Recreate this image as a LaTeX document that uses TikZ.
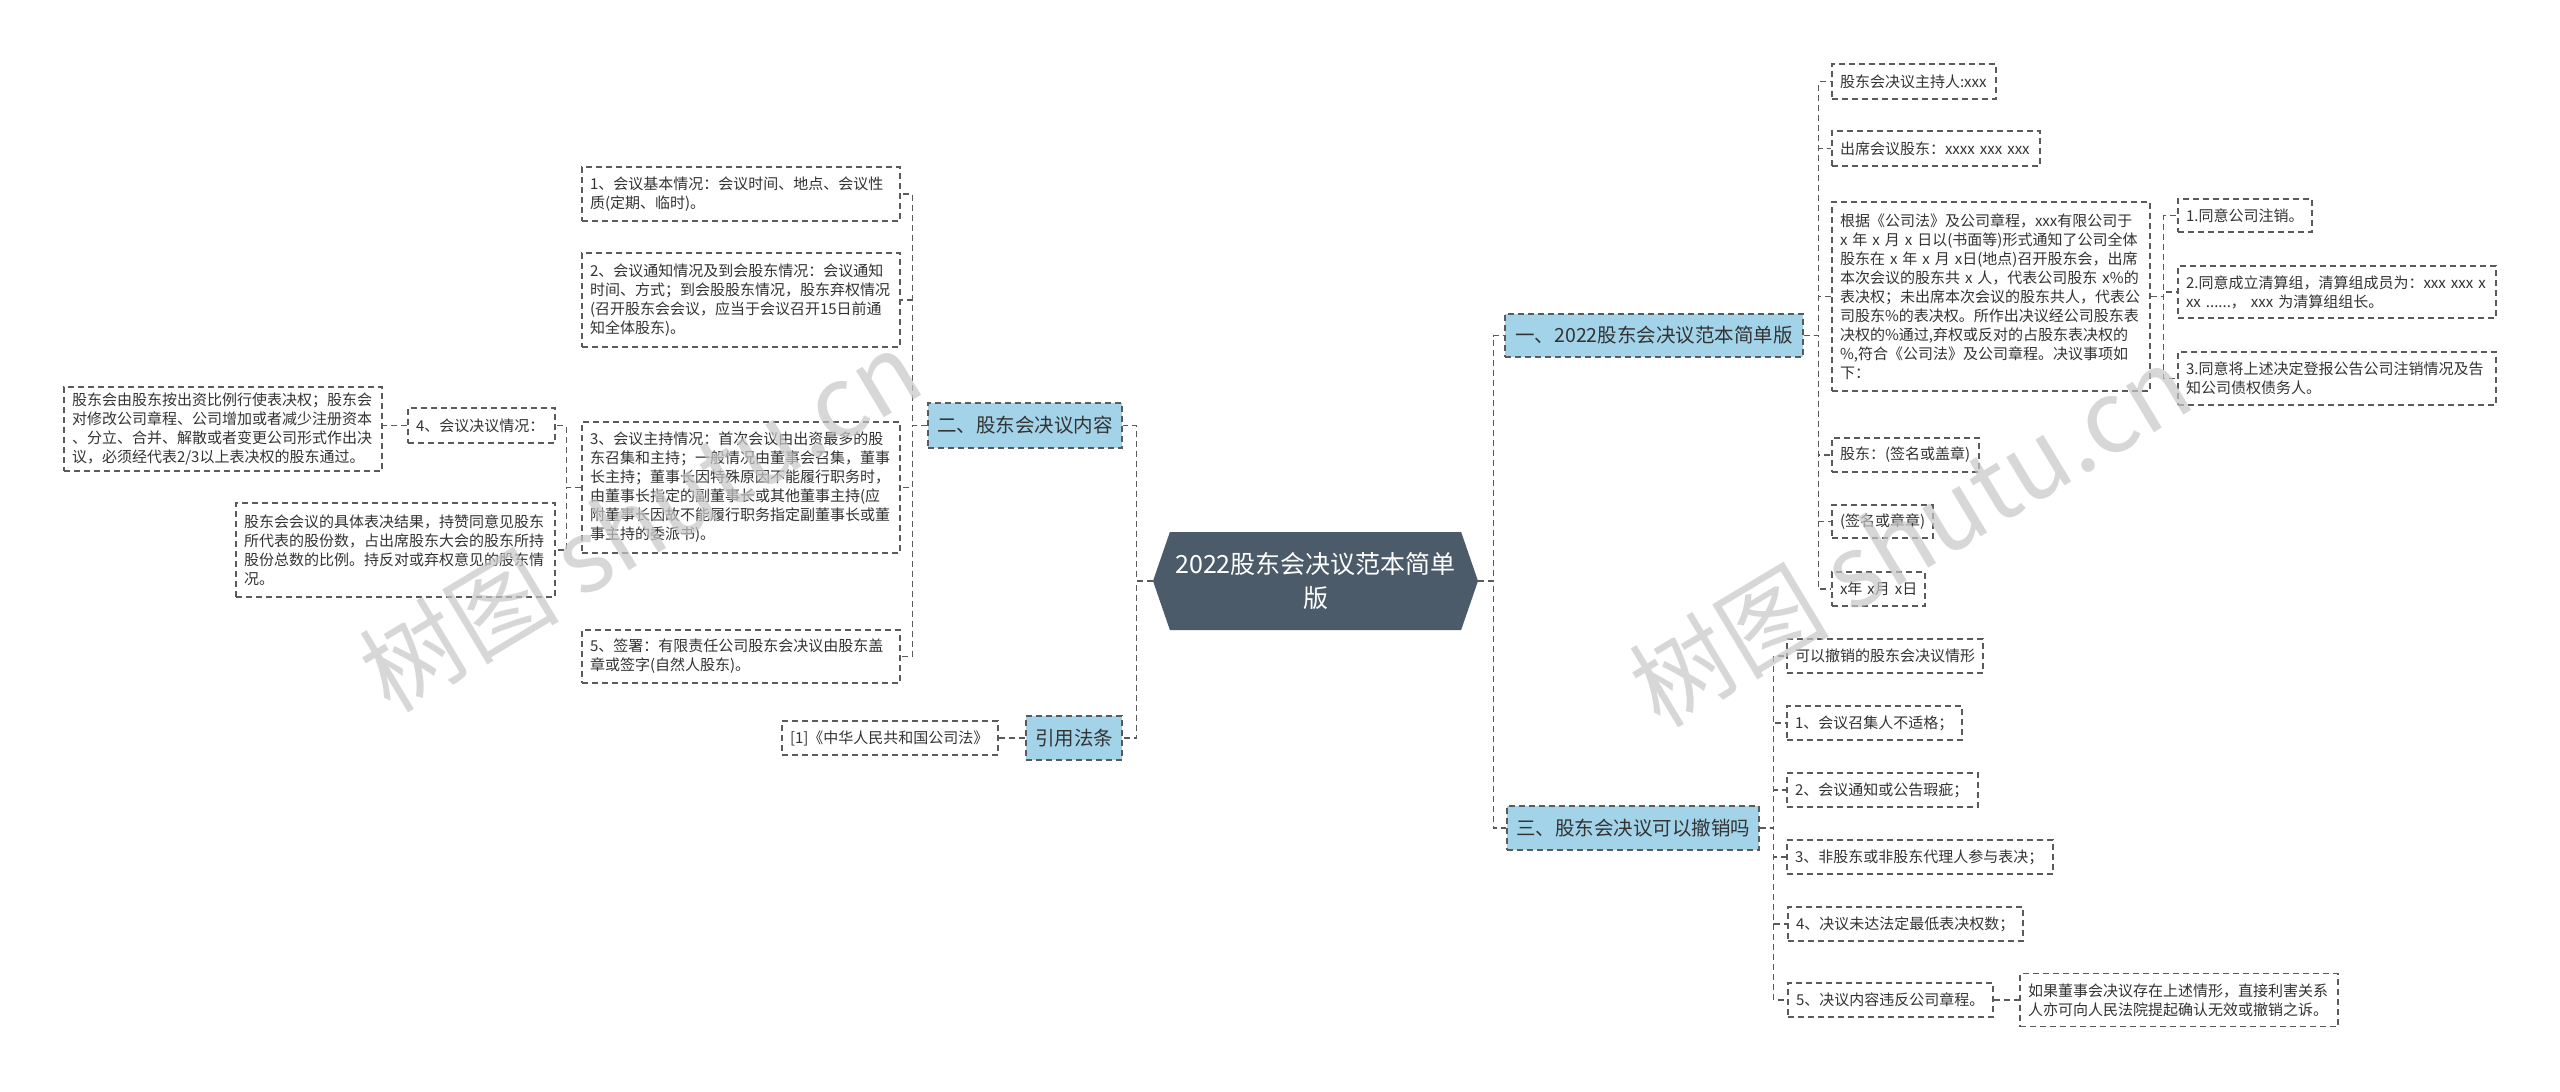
\documentclass[tikz,border=0pt]{standalone}
\usepackage{fontspec}
\setmainfont{Noto Sans CJK SC}
\usetikzlibrary{shapes.symbols}
\definecolor{linegray}{HTML}{5A5A5A}
\definecolor{txtgray}{HTML}{333333}
\definecolor{topicblue}{HTML}{A3D3E9}
\definecolor{rootslate}{HTML}{4C5B6A}

\begin{document}
\begin{tikzpicture}[x=1pt, y=-1pt,
  link/.style={draw=linegray, line width=1.3pt, dash pattern=on 6pt off 4pt},
  leaf/.style={draw=linegray, line width=1.2pt, dash pattern=on 6pt off 4pt, fill=white, text=txtgray, align=left, inner xsep=8pt, inner ysep=4pt, font=\fontsize{15}{19}\selectfont},
  topic/.style={leaf, fill=topicblue, align=center, font=\fontsize{19.5}{24}\selectfont},
  watermark/.style={text=black!22, opacity=0.7, font=\fontsize{100}{100}\selectfont}]
\fill[white] (0,0) rectangle (2560,1092);
\useasboundingbox (0,0) rectangle (2560,1092);

% centre
\node[signal, signal to=west and east, signal pointer angle=142, fill=rootslate, text=white, align=center, minimum width=325pt, minimum height=98pt, inner sep=4pt, font=\fontsize{25}{34}\selectfont] (root) at (1315.5,581) {2022股东会决议范本简单\\版};

% left: 二
\node[topic, minimum width=194pt, minimum height=45pt] (er) at (1025,425.5) {二、股东会决议内容};
\node[leaf, text width=302pt, minimum height=54pt] (b1) at (741,194) {1、会议基本情况：会议时间、地点、会议性\\质(定期、临时)。};
\node[leaf, text width=302pt, minimum height=94pt] (b2) at (741,300) {2、会议通知情况及到会股东情况：会议通知\\时间、方式；到会股股东情况，股东弃权情况\\(召开股东会会议，应当于会议召开15日前通\\知全体股东)。};
\node[leaf, text width=302pt, minimum height=131pt] (b3) at (741,487.5) {3、会议主持情况：首次会议由出资最多的股\\东召集和主持；一般情况由董事会召集，董事\\长主持；董事长因特殊原因不能履行职务时，\\由董事长指定的副董事长或其他董事主持(应\\附董事长因故不能履行职务指定副董事长或董\\事主持的委派书)。};
\node[leaf, text width=302pt, minimum height=53pt] (b5) at (741,656.5) {5、签署：有限责任公司股东会决议由股东盖\\章或签字(自然人股东)。};
\node[leaf, text width=131pt, minimum height=35pt] (b4) at (481.5,425.5) {4、会议决议情况：};
\node[leaf, text width=302pt, minimum height=84pt] (b41) at (223,429) {股东会由股东按出资比例行使表决权；股东会\\对修改公司章程、公司增加或者减少注册资本\\、分立、合并、解散或者变更公司形式作出决\\议，必须经代表2/3以上表决权的股东通过。};
\node[leaf, text width=303pt, minimum height=94pt] (b32) at (395.5,550) {股东会会议的具体表决结果，持赞同意见股东\\所代表的股份数，占出席股东大会的股东所持\\股份总数的比例。持反对或弃权意见的股东情\\况。};

% left: 引用法条
\node[topic, minimum width=96pt, minimum height=44pt] (yy) at (1074,738) {引用法条};
\node[leaf, text width=200pt, minimum height=34pt] (law) at (890,738) {[1]《中华人民共和国公司法》};

% right: 一
\node[topic, minimum width=298pt, minimum height=43pt] (yi) at (1654,335.5) {一、2022股东会决议范本简单版};
\node[leaf, text width=148pt, minimum height=35pt] (r1) at (1914,81.5) {股东会决议主持人:xxx};
\node[leaf, text width=192pt, minimum height=35pt] (r2) at (1936,148.5) {出席会议股东：xxxx xxx xxx};
\node[leaf, text width=302pt, minimum height=189pt] (r3) at (1991,296.5) {根据《公司法》及公司章程，xxx有限公司于\\x 年 x 月 x 日以(书面等)形式通知了公司全体\\股东在 x 年 x 月 x日(地点)召开股东会，出席\\本次会议的股东共 x 人，代表公司股东 x\%的\\表决权；未出席本次会议的股东共人，代表公\\司股东\%的表决权。所作出决议经公司股东表\\决权的\%通过,弃权或反对的占股东表决权的\\\%,符合《公司法》及公司章程。决议事项如\\下：};
\node[leaf, text width=118pt, minimum height=33pt] (r31) at (2245,215.5) {1.同意公司注销。};
\node[leaf, text width=302pt, minimum height=52pt] (r32) at (2337,292) {2.同意成立清算组，清算组成员为：xxx xxx x\\xx ......， xxx 为清算组组长。};
\node[leaf, text width=302pt, minimum height=53pt] (r33) at (2337,378.5) {3.同意将上述决定登报公告公司注销情况及告\\知公司债权债务人。};
\node[leaf, text width=131pt, minimum height=34pt] (r4) at (1905.5,455) {\mbox{股东：(签名或盖章)}};
\node[leaf, text width=85pt, minimum height=33pt] (r5) at (1882.5,521.5) {\mbox{(签名或章章)}};
\node[leaf, text width=77pt, minimum height=34pt] (r6) at (1878.5,589) {\mbox{x年 x月 x日}};

% right: 三
\node[topic, minimum width=252pt, minimum height=44pt] (san) at (1633,828) {三、股东会决议可以撤销吗};
\node[leaf, text width=180pt, minimum height=34pt] (s0) at (1885,656) {可以撤销的股东会决议情形};
\node[leaf, text width=159pt, minimum height=34pt] (s1) at (1874.5,723) {1、会议召集人不适格；};
\node[leaf, text width=175pt, minimum height=34pt] (s2) at (1882.5,790) {2、会议通知或公告瑕疵；};
\node[leaf, text width=250pt, minimum height=34pt] (s3) at (1920,857) {3、非股东或非股东代理人参与表决；};
\node[leaf, text width=219pt, minimum height=34pt] (s4) at (1905.5,924) {4、决议未达法定最低表决权数；};
\node[leaf, text width=189pt, minimum height=34pt] (s5) at (1890.5,1000) {5、决议内容违反公司章程。};
\node[leaf, text width=302pt, minimum height=53pt] (s51) at (2179,1000) {如果董事会决议存在上述情形，直接利害关系\\人亦可向人民法院提起确认无效或撤销之诉。};

% connectors
\draw[link] (root.west) -- ++(-16,0) |- (er.east);
\draw[link] (root.west) -- ++(-16,0) |- (yy.east);
\draw[link] (root.east) -- ++(15,0) |- (yi.west);
\draw[link] (root.east) -- ++(15,0) |- (san.west);
\foreach \c in {b1,b2,b3,b5}
  \draw[link] (er.west) -- ++(-15,0) |- (\c.east);
\foreach \c in {b4,b32}
  \draw[link] (b3.west) -- ++(-15,0) |- (\c.east);
\draw[link] (b4.west) -- (b4.west -| b41.east);
\draw[link] (yy.west) -- (law.east);
\foreach \c in {r1,r2,r3,r4,r5,r6}
  \draw[link] (yi.east) -- ++(15,0) |- (\c.west);
\foreach \c in {r31,r32,r33}
  \draw[link] (r3.east) -- ++(13,0) |- (\c.west);
\foreach \c in {s0,s1,s2,s3,s4,s5}
  \draw[link] (san.east) -- ++(14,0) |- (\c.west);
\draw[link] (s5.east) -- (s51.west);

% watermarks
\node[watermark, rotate=31] (wmL) at (640,520) {树图 shutu.cn};
\node[watermark, rotate=31] (wmR) at (1910,535) {树图 shutu.cn};
\end{tikzpicture}
\end{document}
